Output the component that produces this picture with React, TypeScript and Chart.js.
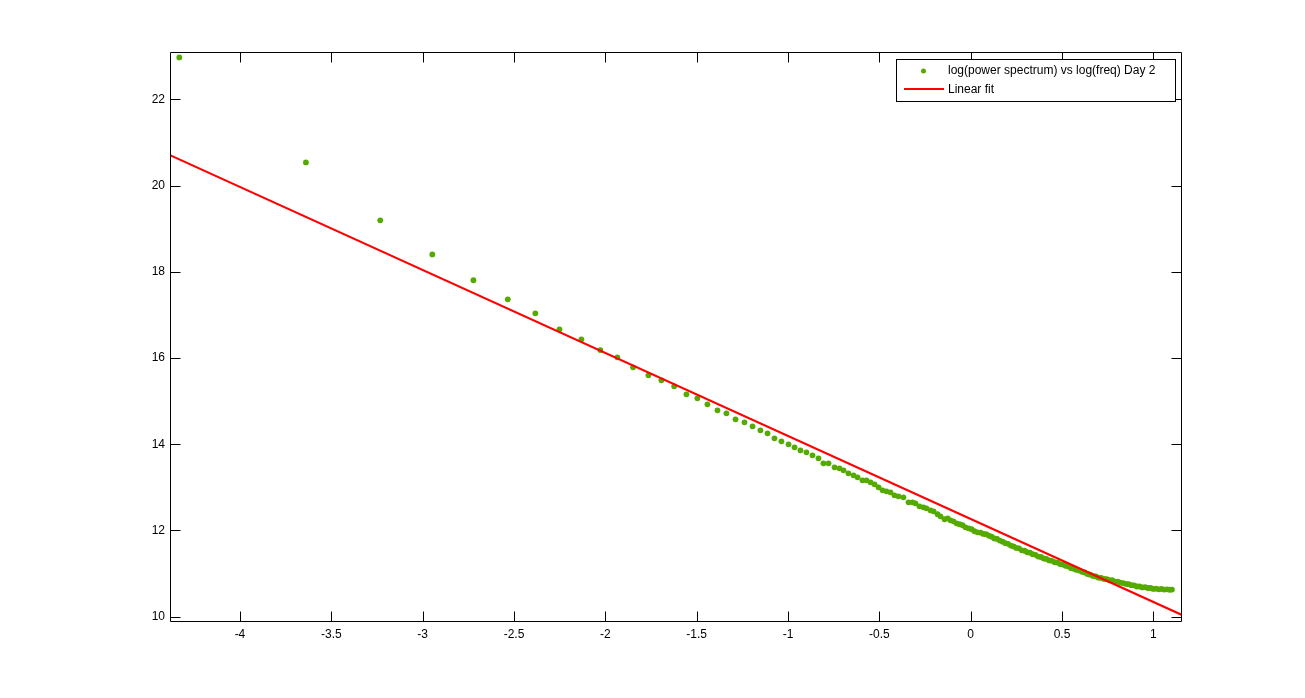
import React, { useEffect, useRef } from "react";
import { Chart, registerables } from "chart.js";

Chart.register(...registerables);

// log(freq) and log(power spectrum)
const logFreq = [
  -4.332, -3.639, -3.232, -2.947, -2.722, -2.534, -2.383, -2.251, -2.131, -2.027,
  -1.934, -1.848, -1.764, -1.693, -1.623, -1.556, -1.496, -1.441, -1.386, -1.337,
  -1.287, -1.238, -1.194, -1.151, -1.112, -1.074, -1.036, -0.997, -0.964, -0.932,
  -0.899, -0.866, -0.833, -0.806, -0.778, -0.745, -0.718, -0.696, -0.669, -0.641,
  -0.619, -0.592, -0.570, -0.548, -0.526, -0.504, -0.482, -0.461, -0.439, -0.417,
  -0.395, -0.368, -0.340, -0.318, -0.302, -0.280, -0.258, -0.242, -0.220, -0.203,
  -0.181, -0.165, -0.143, -0.126, -0.110, -0.094, -0.077, -0.061, -0.044, -0.028,
  -0.011, 0.005, 0.021, 0.038,
  0.055, 0.070, 0.085, 0.100, 0.115, 0.130, 0.145, 0.160, 0.175, 0.190,
  0.205, 0.220, 0.235, 0.250, 0.265, 0.280, 0.295, 0.310, 0.325, 0.340,
  0.355, 0.370, 0.385, 0.400, 0.415, 0.430, 0.445, 0.460, 0.475, 0.490,
  0.505, 0.520, 0.535, 0.550, 0.565, 0.580, 0.595, 0.610, 0.625, 0.640,
  0.655, 0.670, 0.685, 0.700, 0.715, 0.730, 0.745, 0.760, 0.775, 0.790,
  0.805, 0.820, 0.835, 0.850, 0.865, 0.880, 0.895, 0.910, 0.925, 0.940,
  0.955, 0.970, 0.985, 1.000, 1.015, 1.030, 1.045, 1.060, 1.075, 1.090, 1.102,
];

const logPower = [
  22.974, 20.539, 19.194, 18.405, 17.805, 17.362, 17.037, 16.666, 16.434, 16.186,
  16.017, 15.785, 15.599, 15.483, 15.344, 15.159, 15.066, 14.927, 14.788, 14.718,
  14.579, 14.509, 14.417, 14.324, 14.254, 14.138, 14.069, 13.999, 13.930, 13.860,
  13.814, 13.744, 13.674, 13.558, 13.558, 13.466, 13.442, 13.396, 13.327, 13.280,
  13.234, 13.164, 13.164, 13.118, 13.071, 13.002, 12.932, 12.909, 12.886, 12.816,
  12.793, 12.770, 12.654, 12.654, 12.631, 12.561, 12.538, 12.515, 12.468, 12.445,
  12.376, 12.329, 12.260, 12.283, 12.236, 12.213, 12.167, 12.144, 12.121, 12.074,
  12.051, 12.028, 11.982, 11.958,
  11.950, 11.920, 11.915, 11.880, 11.855, 11.815, 11.805, 11.765, 11.740, 11.705,
  11.690, 11.650, 11.630, 11.595, 11.585, 11.540, 11.530, 11.495, 11.485, 11.450,
  11.435, 11.395, 11.385, 11.350, 11.340, 11.305, 11.295, 11.265, 11.255, 11.220,
  11.210, 11.180, 11.165, 11.125, 11.110, 11.085, 11.070, 11.040, 11.025, 10.990,
  10.975, 10.945, 10.935, 10.905, 10.900, 10.875, 10.870, 10.845, 10.845, 10.815,
  10.815, 10.790, 10.780, 10.760, 10.755, 10.730, 10.725, 10.700, 10.700, 10.680,
  10.685, 10.665, 10.665, 10.645, 10.650, 10.635, 10.645, 10.630, 10.635, 10.625, 10.630,
];

// linear fit end points
const fitX = [-4.383, 1.157];
const fitY = [20.708, 10.04];

const xTickValues = [-4, -3.5, -3, -2.5, -2, -1.5, -1, -0.5, 0, 0.5, 1];
const yTickValues = [10, 12, 14, 16, 18, 20, 22];

const seriesLabels = ["log(power spectrum) vs log(freq) Day 2", "Linear fit"];

const FONT = '"Liberation Sans", Arial, sans-serif';

const framePlugin = {
  id: "matlabFrame",
  afterDatasetsDraw(chart: any) {
    const { ctx, chartArea, scales } = chart;
    const L = Math.round(chartArea.left) + 0.5;
    const R = Math.round(chartArea.right) - 0.5;
    const T = Math.round(chartArea.top) + 0.5;
    const B = Math.round(chartArea.bottom) + 0.5;
    const tl = 10;
    ctx.save();
    ctx.strokeStyle = "#000";
    ctx.lineWidth = 1;
    ctx.beginPath();
    ctx.rect(L, T, R - L, B - T);
    scales.x.ticks.forEach((t: any) => {
      const px = Math.round(scales.x.getPixelForValue(t.value)) + 0.5;
      ctx.moveTo(px, B);
      ctx.lineTo(px, B - tl);
      ctx.moveTo(px, T);
      ctx.lineTo(px, T + tl);
    });
    scales.y.ticks.forEach((t: any) => {
      const py = Math.round(scales.y.getPixelForValue(t.value)) + 0.5;
      ctx.moveTo(L, py);
      ctx.lineTo(L + tl, py);
      ctx.moveTo(R, py);
      ctx.lineTo(R - tl, py);
    });
    ctx.stroke();

    // legend box
    const ds = chart.data.datasets;
    const bx = 896.5, by = 59.5, bw = 279, bh = 42;
    ctx.fillStyle = "#fff";
    ctx.fillRect(bx, by, bw, bh);
    ctx.strokeRect(bx, by, bw, bh);
    ctx.font = `12px ${FONT}`;
    ctx.textBaseline = "middle";
    ctx.textAlign = "left";
    // entry 1: marker
    ctx.fillStyle = ds[0].backgroundColor;
    ctx.beginPath();
    ctx.arc(923.5, 71, 2.5, 0, Math.PI * 2);
    ctx.fill();
    ctx.fillStyle = "#000";
    ctx.fillText(ds[0].label, 948, 71);
    // entry 2: line
    ctx.strokeStyle = ds[1].borderColor;
    ctx.lineWidth = 2;
    ctx.beginPath();
    ctx.moveTo(904, 89);
    ctx.lineTo(944, 89);
    ctx.stroke();
    ctx.fillStyle = "#000";
    ctx.fillText(ds[1].label, 948, 90);
    ctx.restore();
  },
};

export default function App() {
  const ref = useRef<HTMLCanvasElement | null>(null);

  useEffect(() => {
    if (!ref.current) return;
    const chart = new Chart(ref.current, {
      type: "scatter",
      data: {
        datasets: [
          {
            label: seriesLabels[0],
            data: logFreq.map((x, i) => ({ x, y: logPower[i] })),
            backgroundColor: "#55aa00",
            borderColor: "#55aa00",
            pointRadius: 2.9,
            pointBorderWidth: 0,
            pointStyle: "circle",
            showLine: false,
            order: 1,
          },
          {
            type: "line",
            label: seriesLabels[1],
            data: fitX.map((x, i) => ({ x, y: fitY[i] })),
            borderColor: "#ff0000",
            backgroundColor: "#ff0000",
            borderWidth: 2,
            pointRadius: 0,
            showLine: true,
            fill: false,
            order: 0,
          } as any,
        ],
      },
      options: {
        animation: false,
        responsive: false,
        layout: { padding: { top: 52, right: 123, left: 0, bottom: 0 } },
        plugins: {
          legend: { display: false },
          tooltip: { enabled: false },
        },
        scales: {
          x: {
            type: "linear",
            min: -4.383,
            max: 1.157,
            grid: { display: false, drawTicks: false },
            border: { display: false },
            afterBuildTicks: (s: any) => {
              s.ticks = xTickValues.map((v) => ({ value: v }));
            },
            afterFit: (s: any) => {
              s.height = 77;
            },
            ticks: {
              padding: 6,
              color: "#000",
              font: { family: FONT, size: 12 },
              maxRotation: 0,
              autoSkip: false,
              callback: (v: any) => String(v),
            },
          },
          y: {
            type: "linear",
            min: 9.9,
            max: 23.1,
            grid: { display: false, drawTicks: false },
            border: { display: false },
            afterBuildTicks: (s: any) => {
              s.ticks = yTickValues.map((v) => ({ value: v }));
            },
            afterFit: (s: any) => {
              s.width = 170;
            },
            ticks: {
              padding: 5,
              color: "#000",
              font: { family: FONT, size: 12 },
              autoSkip: false,
              callback: (v: any) => String(v),
            },
          },
        },
      },
      plugins: [framePlugin],
    });
    return () => chart.destroy();
  }, []);

  return (
    <div style={{ position: "absolute", left: 0, top: 0, width: 1305, height: 698, background: "#fff" }}>
      <canvas ref={ref} width={1305} height={698} style={{ display: "block" }} />
    </div>
  );
}
